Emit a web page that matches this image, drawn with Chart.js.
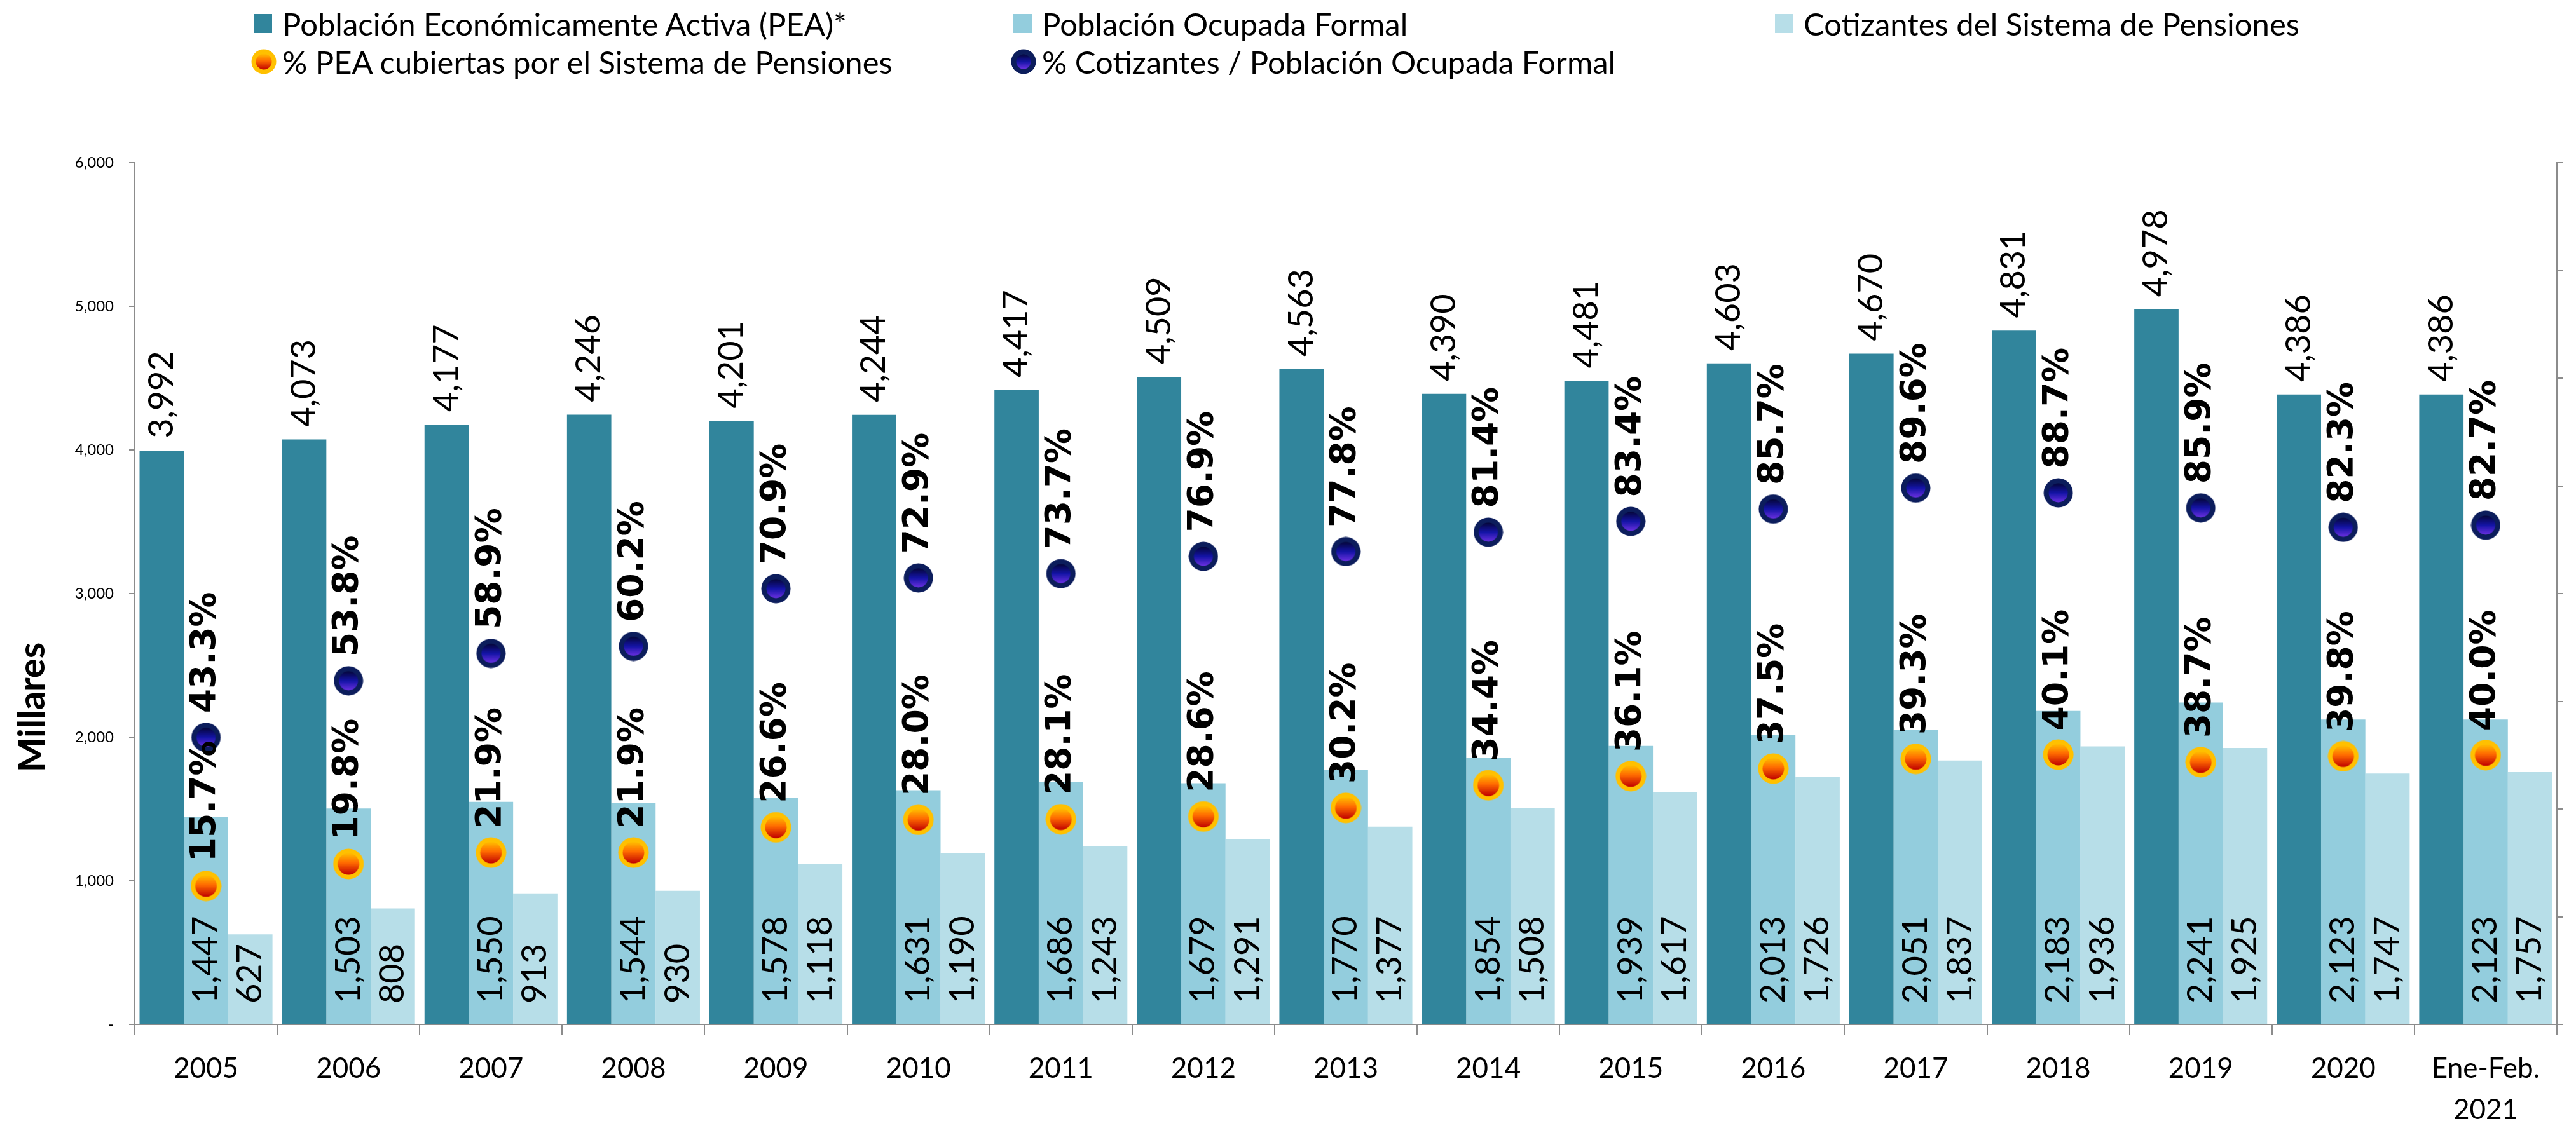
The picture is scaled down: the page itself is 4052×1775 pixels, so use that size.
<!DOCTYPE html>
<html>
<head>
<meta charset="utf-8">
<script src="https://cdn.jsdelivr.net/npm/chart.js@4.4.1/dist/chart.umd.min.js"></script>
<style>
  html, body { margin: 0; padding: 0; background: #fff; }
  #wrap { position: relative; width: 4052px; height: 1775px; }
  #legend { position: absolute; left: 0; top: 0; width: 4052px; height: 140px; font-family: Lato, sans-serif; font-size: 49px; color: #000; }
  .item { position: absolute; height: 60px; display: flex; align-items: center; white-space: nowrap; }
  .box { width: 29px; height: 30px; margin-right: 16px; }
  .dot { margin-right: 9px; }
</style>
</head>
<body>
<div id="wrap">
  <canvas id="chart" width="4052" height="1775"></canvas>
  <div id="legend"></div>
</div>
<script>
// Datos (miles de personas y porcentajes)
const YEARS = ['2005','2006','2007','2008','2009','2010','2011','2012','2013','2014',
               '2015','2016','2017','2018','2019','2020',['Ene-Feb.','2021']];
const PEA = [3992,4073,4177,4246,4201,4244,4417,4509,4563,4390,4481,4603,4670,4831,4978,4386,4386];
const OCUPADA = [1447,1503,1550,1544,1578,1631,1686,1679,1770,1854,1939,2013,2051,2183,2241,2123,2123];
const COTIZANTES = [627,808,913,930,1118,1190,1243,1291,1377,1508,1617,1726,1837,1936,1925,1747,1757];
const PCT_PEA = [15.7,19.8,21.9,21.9,26.6,28.0,28.1,28.6,30.2,34.4,36.1,37.5,39.3,40.1,38.7,39.8,40.0];
const PCT_COT = [43.3,53.8,58.9,60.2,70.9,72.9,73.7,76.9,77.8,81.4,83.4,85.7,89.6,88.7,85.9,82.3,82.7];
const Y_TICKS = [0,1000,2000,3000,4000,5000,6000];
const Y2_TICKS = [-10,10,30,50,70,90,110,130,150];

const AXIS_GREY = '#8c8c8c';

// gradient "bubble" markers like the Excel picture markers
function paintMarker(g, cx, cy, r, kind) {
  const ring = kind === 'orange' ? '#ffc000' : '#0c1d5c';
  const inner = kind === 'orange' ? r - 7 : r - 8;
  g.beginPath(); g.arc(cx, cy, r, 0, Math.PI * 2); g.fillStyle = ring; g.fill();
  const gr = g.createLinearGradient(0, cy - inner, 0, cy + inner);
  if (kind === 'orange') {
    gr.addColorStop(0, '#ffbf00'); gr.addColorStop(0.45, '#ff6a00'); gr.addColorStop(1, '#c00000');
  } else {
    gr.addColorStop(0, '#05063a'); gr.addColorStop(0.5, '#1414a6'); gr.addColorStop(1, '#6a30e0');
  }
  g.beginPath(); g.arc(cx, cy, inner, 0, Math.PI * 2); g.fillStyle = gr; g.fill();
}

function makeMarker(kind, size) {
  const c = document.createElement('canvas');
  c.width = c.height = size;
  paintMarker(c.getContext('2d'), size / 2, size / 2, size / 2 - 0.5, kind);
  return c;
}

// ── Legend (3 columns, 2 rows) ───────────────────────────────────────────────
const LEGEND = [
  { col: 399,  row: 37, type: 'box', color: '#31859C', text: 'Población Económicamente Activa (PEA)*' },
  { col: 1594, row: 37, type: 'box', color: '#93CDDD', text: 'Población Ocupada Formal' },
  { col: 2792, row: 37, type: 'box', color: '#B7DEE8', text: 'Cotizantes del Sistema de Pensiones' },
  { col: 395,  row: 97, type: 'orange', text: '% PEA cubiertas por el Sistema de Pensiones' },
  { col: 1590, row: 97, type: 'blue',   text: '% Cotizantes / Población Ocupada Formal' }
];
const legendEl = document.getElementById('legend');
LEGEND.forEach(it => {
  const d = document.createElement('div');
  d.className = 'item';
  d.style.left = it.col + 'px';
  d.style.top = (it.row - 30) + 'px';
  let m;
  if (it.type === 'box') {
    m = document.createElement('div');
    m.className = 'box';
    m.style.background = it.color;
  } else {
    m = makeMarker(it.type, 40);
    m.className = 'dot';
  }
  d.appendChild(m);
  const s = document.createElement('span');
  s.textContent = it.text;
  d.appendChild(s);
  legendEl.appendChild(d);
});

// ── Labels drawn on top of the datasets ─────────────────────────────────────
const labelPlugin = {
  id: 'valueLabels',
  afterDatasetsDraw(chart) {
    const ctx = chart.ctx;
    chart.data.datasets.forEach((ds, i) => {
      const meta = chart.getDatasetMeta(i);
      if (meta.hidden) return;
      meta.data.forEach((el, j) => {
        const v = ds.data[j];
        let text, y, font;
        if (meta.type === 'bar') {
          text = v.toLocaleString('en-US');
          y = ds.labelAt === 'end' ? el.y - 20 : el.base - 32;
          font = '54px Lato';
        } else {
          text = v.toFixed(1) + '%';
          y = el.y - 38;
          font = 'bold 55px "DejaVu Sans"';
        }
        ctx.save();
        ctx.translate(el.x, y);
        ctx.rotate(-Math.PI / 2);
        ctx.font = font;
        ctx.fillStyle = '#000';
        ctx.textAlign = 'left';
        ctx.textBaseline = 'middle';
        ctx.fillText(text, 0, 0);
        ctx.restore();
      });
    });
    // axis title, placed like the original (below the centre)
    ctx.save();
    ctx.translate(51, 1113);
    ctx.rotate(-Math.PI / 2);
    ctx.font = 'bold 58px Lato';
    ctx.fillStyle = '#000';
    ctx.textAlign = 'center';
    ctx.textBaseline = 'middle';
    ctx.fillText('Millares', 0, 0);
    ctx.restore();
  }
};

const tickFont = { family: 'Lato', size: 24 };

new Chart(document.getElementById('chart'), {
  data: {
    labels: YEARS,
    datasets: [
      { type: 'line', label: '% PEA cubiertas por el Sistema de Pensiones', data: PCT_PEA, yAxisID: 'y2',
        showLine: false, pointStyle: makeMarker('orange', 49), order: 0 },
      { type: 'line', label: '% Cotizantes / Población Ocupada Formal', data: PCT_COT, yAxisID: 'y2',
        showLine: false, pointStyle: makeMarker('blue', 47), order: 0 },
      { type: 'bar', label: 'Población Económicamente Activa (PEA)*', data: PEA, yAxisID: 'y',
        backgroundColor: '#31859C', labelAt: 'end', order: 1 },
      { type: 'bar', label: 'Población Ocupada Formal', data: OCUPADA, yAxisID: 'y',
        backgroundColor: '#93CDDD', labelAt: 'base', order: 1 },
      { type: 'bar', label: 'Cotizantes del Sistema de Pensiones', data: COTIZANTES, yAxisID: 'y',
        backgroundColor: '#B7DEE8', labelAt: 'base', order: 1 }
    ]
  },
  options: {
    responsive: false,
    animation: false,
    devicePixelRatio: 1,
    layout: { padding: { top: 256, left: 0, right: 0, bottom: 0 } },
    datasets: { bar: { categoryPercentage: 0.933, barPercentage: 1.0 } },
    plugins: { legend: { display: false }, tooltip: { enabled: false } },
    scales: {
      x: {
        grid: { offset: true, drawOnChartArea: false, drawTicks: true, tickLength: 16, color: AXIS_GREY, lineWidth: 2 },
        border: { color: AXIS_GREY, width: 2 },
        ticks: { font: { family: 'Lato', size: 44, lineHeight: 1.48 }, color: '#000', padding: 21, maxRotation: 0, autoSkip: false },
        afterFit: s => { s.height = 1775 - 1612; }
      },
      y: {
        position: 'left',
        min: 0, max: 6000,
        afterBuildTicks: s => { s.ticks = Y_TICKS.map(v => ({ value: v })); },
        grid: { drawOnChartArea: false, drawTicks: true, tickLength: 9, color: AXIS_GREY, lineWidth: 2 },
        border: { color: AXIS_GREY, width: 2 },
        ticks: { font: tickFont, color: '#000', padding: 24,
                 callback: v => v === 0 ? '-' : v.toLocaleString('en-US') },
        afterFit: s => { s.width = 212; }
      },
      y2: {
        position: 'right',
        min: -10, max: 150,
        afterBuildTicks: s => { s.ticks = Y2_TICKS.map(v => ({ value: v })); },
        grid: { drawOnChartArea: false, drawTicks: true, tickLength: 9, color: AXIS_GREY, lineWidth: 2 },
        border: { color: AXIS_GREY, width: 2 },
        ticks: { display: false },
        afterFit: s => { s.width = 4052 - 4022; }
      }
    }
  },
  plugins: [labelPlugin]
});
</script>
</body>
</html>
